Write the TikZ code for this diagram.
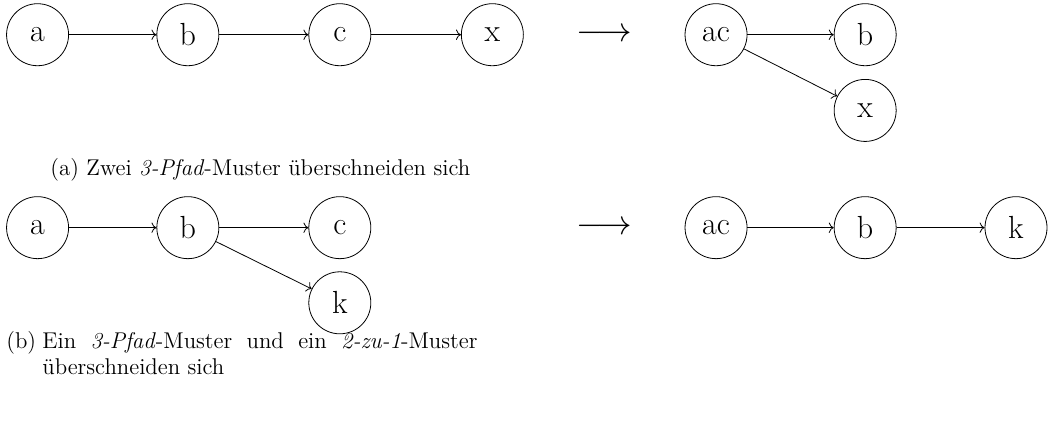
\documentclass[tikz,border=0pt]{standalone}
\usepackage{tikz}
\usetikzlibrary{arrows.meta, positioning}

\begin{document}
\begin{tikzpicture}[x=1cm, y=1cm,
  knt/.style={circle, draw, line width=0.4pt, minimum size=31pt,
    inner sep=0pt, font=\fontsize{16}{19}\selectfont},
  ueb/.style={inner sep=0pt, font=\fontsize{16}{19}\selectfont},
  pf/.style={->, line width=0.4pt},
  utxt/.style={inner sep=0pt, font=\fontsize{11.4}{13}\selectfont}
]
\useasboundingbox (0,0) rectangle (18.43,-7.40);

%% ── (a) vorher ───────────────────────────────────────────────────────
\node[knt] (A1) at (0.66, -0.61) {a};
\node[knt] (B1) at (3.30, -0.61) {b};
\node[knt] (C1) at (5.97, -0.61) {c};
\node[knt] (X1) at (8.65, -0.61) {x};

\draw[pf] (A1) -- (B1);
\draw[pf] (B1) -- (C1);
\draw[pf] (C1) -- (X1);

\node[ueb] (T1) at (10.61, -0.61) {$\longrightarrow$};

%% ── (a) nachher ──────────────────────────────────────────────────────
\node[knt] (AC1) at (12.58, -0.61) {ac};
\node[knt] (B1n) at (15.20, -0.61) {b};
\node[knt] (X1n) at (15.20, -1.94) {x};

\draw[pf] (AC1) -- (B1n);
\draw[pf] (AC1) -- (X1n);

\node[utxt, anchor=base west] (CA) at (0.88, -3.09)
  {(a) Zwei \textit{3-Pfad}-Muster überschneiden sich};

%% ── (b) vorher ───────────────────────────────────────────────────────
\node[knt] (A2) at (0.66, -4.00) {a};
\node[knt] (B2) at (3.30, -4.00) {b};
\node[knt] (C2) at (5.97, -4.00) {c};
\node[knt] (K2) at (5.97, -5.32) {k};

\draw[pf] (A2) -- (B2);
\draw[pf] (B2) -- (C2);
\draw[pf] (B2) -- (K2);

\node[ueb] (T2) at (10.61, -4.00) {$\longrightarrow$};

%% ── (b) nachher ──────────────────────────────────────────────────────
\node[knt] (AC2) at (12.58, -4.00) {ac};
\node[knt] (B2n) at (15.20, -4.00) {b};
\node[knt] (K2n) at (17.85, -4.00) {k};

\draw[pf] (AC2) -- (B2n);
\draw[pf] (B2n) -- (K2n);

\node[utxt, anchor=north west, text width=235.5pt, align=justify] (CB)
  at (0.105, -5.82)
  {\makebox[18pt][l]{(b)}\hangindent=18pt\hangafter=1 Ein \textit{3-Pfad}-Muster
   und ein \textit{2-zu-1}-Muster\linebreak überschneiden sich\par};

\end{tikzpicture}
\end{document}
